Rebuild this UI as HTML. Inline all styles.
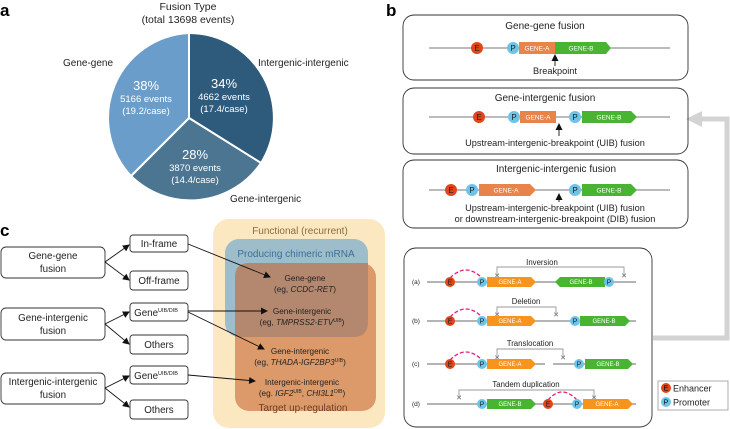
<!DOCTYPE html>
<html><head><meta charset="utf-8"><style>
html,body{margin:0;padding:0;background:#fff}
svg{display:block;font-family:"Liberation Sans",sans-serif}
</style></head><body>
<svg width="730" height="429" viewBox="0 0 730 429" xmlns="http://www.w3.org/2000/svg">
<defs>
<marker id="ar" markerWidth="7" markerHeight="7" refX="6" refY="3.5" orient="auto" markerUnits="userSpaceOnUse"><path d="M0,0 L7,3.5 L0,7 z" fill="#111"/></marker>
</defs>
<!-- panel a -->
<text x="0" y="16" font-size="17" font-weight="bold">a</text>
<text x="188" y="10" font-size="10.5" text-anchor="middle" fill="#222">Fusion Type</text>
<text x="188" y="23" font-size="10.5" text-anchor="middle" fill="#222">(total 13698 events)</text>
<g stroke="#fff" stroke-width="2">
<path d="M189,118 L189,33 A85,85 0 0 1 261,163 Z" fill="#2e5a7b"/>
<path d="M189,118 L261,163 A85,85 0 0 1 131,176 Z" fill="#4b7590"/>
<path d="M189,118 L131,176 A85,85 0 0 1 189,33 Z" fill="#6a9dc9"/>
</g>
<g font-size="10" fill="#222">
<text x="63" y="66">Gene-gene</text>
<text x="258" y="66">Intergenic-intergenic</text>
<text x="230" y="202">Gene-intergenic</text>
</g>
<g fill="#fff" text-anchor="middle">
<text x="146" y="90" font-size="13">38%</text>
<text x="146" y="102" font-size="9.5">5166 events</text>
<text x="146" y="114" font-size="9.5">(19.2/case)</text>
<text x="224" y="88" font-size="13">34%</text>
<text x="224" y="100" font-size="9.5">4662 events</text>
<text x="224" y="112" font-size="9.5">(17.4/case)</text>
<text x="195" y="159" font-size="13">28%</text>
<text x="195" y="171" font-size="9.5">3870 events</text>
<text x="195" y="183" font-size="9.5">(14.4/case)</text>
</g>

<!-- panel b -->
<text x="386" y="16" font-size="17" font-weight="bold">b</text>
<path d="M653,338 L727,338 L727,119 L700,119" fill="none" stroke="#d3d3d3" stroke-width="5"/>
<path d="M686,119 L702,111 L702,127 z" fill="#d3d3d3"/>
<g fill="none" stroke="#333" stroke-width="0.9">
<rect x="403" y="15" width="285" height="65" rx="11"/>
<rect x="403" y="88" width="285" height="66" rx="11"/>
<rect x="403" y="160" width="285" height="68" rx="11"/>
<rect x="404" y="248" width="248" height="179" rx="12"/>
</g>
<g font-size="10" fill="#222" text-anchor="middle">
<text x="545" y="29">Gene-gene fusion</text>
<text x="545" y="101">Gene-intergenic fusion</text>
<text x="556" y="172">Intergenic-intergenic fusion</text>
</g>
<g font-size="9.2" fill="#222" text-anchor="middle">
<text x="555" y="74">Breakpoint</text>
<text x="555" y="146">Upstream-intergenic-breakpoint (UIB) fusion</text>
<text x="555" y="211">Upstream-intergenic-breakpoint (UIB) fusion</text>
<text x="555" y="222">or downstream-intergenic-breakpoint (DIB) fusion</text>
</g>
<g stroke="#777" stroke-width="1"><line x1="429" y1="48" x2="670" y2="48"/><line x1="429" y1="117" x2="670" y2="117"/><line x1="429" y1="190" x2="670" y2="190"/></g>
<g stroke="#111" stroke-width="0.9"><line x1="555" y1="66" x2="555" y2="55" marker-end="url(#ar)"/><line x1="559" y1="136" x2="559" y2="124" marker-end="url(#ar)"/><line x1="559" y1="202" x2="559" y2="194" marker-end="url(#ar)"/></g>
<g font-size="6.5" fill="#fff" text-anchor="middle">
<rect x="519" y="42" width="36" height="12" fill="#e8834a"/><text x="537" y="50.5">GENE-A</text>
<path d="M555,42 L606,42 L611,48 L606,54 L555,54z" fill="#49b431"/><text x="581" y="50.5">GENE-B</text>
<rect x="520" y="111" width="36" height="12" fill="#e8834a"/><text x="538" y="119.5">GENE-A</text>
<path d="M582,111 L631,111 L637,117 L631,123 L582,123z" fill="#49b431"/><text x="609" y="119.5">GENE-B</text>
<path d="M479,184 L530,184 L536,190 L530,196 L479,196z" fill="#e8834a"/><text x="506" y="192.5">GENE-A</text>
<path d="M582,184 L631,184 L637,190 L631,196 L582,196z" fill="#49b431"/><text x="609" y="192.5">GENE-B</text>
</g>
<g font-size="8" text-anchor="middle">
<circle cx="477" cy="48" r="6" fill="#e0461a"/><text x="477" y="51" fill="#222">E</text>
<circle cx="513" cy="48" r="6" fill="#6ec3e8"/><text x="513" y="51" fill="#222">P</text>
<circle cx="479" cy="117" r="6" fill="#e0461a"/><text x="479" y="120" fill="#222">E</text>
<circle cx="514" cy="117" r="6" fill="#6ec3e8"/><text x="514" y="120" fill="#222">P</text>
<circle cx="575" cy="117" r="6" fill="#6ec3e8"/><text x="575" y="120" fill="#222">P</text>
<circle cx="451" cy="190" r="6" fill="#e0461a"/><text x="451" y="193" fill="#222">E</text>
<circle cx="472" cy="190" r="6" fill="#6ec3e8"/><text x="472" y="193" fill="#222">P</text>
<circle cx="575" cy="190" r="6" fill="#6ec3e8"/><text x="575" y="193" fill="#222">P</text>
</g>

<!-- box4 -->
<g font-size="6.5" fill="#222"><text x="412" y="284">(a)</text><text x="412" y="323">(b)</text><text x="412" y="366">(c)</text><text x="412" y="406">(d)</text></g>
<g stroke="#888" stroke-width="1.2">
<line x1="427" y1="282" x2="636" y2="282"/><line x1="427" y1="321" x2="636" y2="321"/>
<line x1="427" y1="364" x2="545" y2="364"/><line x1="553" y1="364" x2="636" y2="364"/>
<line x1="427" y1="404" x2="636" y2="404"/>
</g>
<g fill="none" stroke="#999" stroke-width="0.9">
<path d="M497,274 L497,267 L624,267 L624,274"/>
<path d="M497,313 L497,307 L556,307 L556,313"/>
<path d="M497,356 L497,349 L563,349 L563,356"/>
<path d="M459,396 L459,390 L594,390 L594,396"/>
</g>
<g font-size="7" fill="#555" text-anchor="middle"><text x="497" y="278">✕</text><text x="624" y="278">✕</text><text x="497" y="317">✕</text><text x="556" y="317">✕</text><text x="497" y="360">✕</text><text x="563" y="360">✕</text><text x="459" y="400">✕</text><text x="594" y="400">✕</text></g>
<g font-size="7.8" fill="#222" text-anchor="middle"><text x="542" y="265">Inversion</text><text x="526" y="304">Deletion</text><text x="530" y="346">Translocation</text><text x="526" y="387">Tandem duplication</text></g>
<g fill="none" stroke="#e6207e" stroke-width="1.3" stroke-dasharray="4,2">
<path d="M450,278 Q466,262 482,278"/><path d="M450,317 Q466,301 482,317"/><path d="M450,360 Q466,344 482,360"/><path d="M548,400 Q562,384 577,400"/>
</g>
<g font-size="6" fill="#fff" text-anchor="middle">
<path d="M487,277 L531,277 L536,282 L531,287 L487,287z" fill="#f7941d"/><text x="510" y="284">GENE-A</text>
<path d="M560,277 L605,277 L605,287 L560,287 L555,282z" fill="#49b431"/><text x="581" y="284">GENE-B</text>
<path d="M487,316 L531,316 L536,321 L531,326 L487,326z" fill="#f7941d"/><text x="510" y="323">GENE-A</text>
<path d="M580,316 L625,316 L630,321 L625,326 L580,326z" fill="#49b431"/><text x="604" y="323">GENE-B</text>
<path d="M487,359 L531,359 L536,364 L531,369 L487,369z" fill="#f7941d"/><text x="510" y="366">GENE-A</text>
<path d="M585,359 L628,359 L633,364 L628,369 L585,369z" fill="#49b431"/><text x="608" y="366">GENE-B</text>
<path d="M487,399 L531,399 L536,404 L531,409 L487,409z" fill="#49b431"/><text x="510" y="406">GENE-B</text>
<path d="M583,399 L628,399 L633,404 L628,409 L583,409z" fill="#f7941d"/><text x="607" y="406">GENE-A</text>
</g>
<g font-size="7" text-anchor="middle" fill="#222">
<circle cx="450" cy="282" r="5" fill="#e0461a"/><text x="450" y="284.5">E</text><circle cx="482" cy="282" r="5" fill="#6ec3e8"/><text x="482" y="284.5">P</text><circle cx="609" cy="282" r="5" fill="#6ec3e8"/><text x="609" y="284.5">P</text>
<circle cx="450" cy="321" r="5" fill="#e0461a"/><text x="450" y="323.5">E</text><circle cx="482" cy="321" r="5" fill="#6ec3e8"/><text x="482" y="323.5">P</text><circle cx="575" cy="321" r="5" fill="#6ec3e8"/><text x="575" y="323.5">P</text>
<circle cx="450" cy="364" r="5" fill="#e0461a"/><text x="450" y="366.5">E</text><circle cx="482" cy="364" r="5" fill="#6ec3e8"/><text x="482" y="366.5">P</text><circle cx="579" cy="364" r="5" fill="#6ec3e8"/><text x="579" y="366.5">P</text>
<circle cx="482" cy="404" r="5" fill="#6ec3e8"/><text x="482" y="406.5">P</text><circle cx="548" cy="404" r="5" fill="#e0461a"/><text x="548" y="406.5">E</text><circle cx="577" cy="404" r="5" fill="#6ec3e8"/><text x="577" y="406.5">P</text>
</g>
<rect x="658" y="381" width="70" height="29" fill="#fff" stroke="#999" stroke-width="0.8"/>
<circle cx="666" cy="388" r="5" fill="#e0461a"/><text x="666" y="390.5" font-size="7" text-anchor="middle">E</text>
<circle cx="666" cy="402" r="5" fill="#6ec3e8"/><text x="666" y="404.5" font-size="7" text-anchor="middle">P</text>
<text x="673" y="391.5" font-size="9" fill="#222">Enhancer</text>
<text x="673" y="405.5" font-size="9" fill="#222">Promoter</text>

<!-- panel c -->
<text x="0" y="236" font-size="17" font-weight="bold">c</text>
<rect x="213" y="219" width="172" height="209" rx="16" fill="#fce8c0"/>
<rect x="225" y="239" width="143" height="98" rx="14" fill="#9ebdcb"/>
<rect x="235" y="263" width="141" height="148" rx="14" fill="#dc9a6a"/>
<path d="M249,263 L368,263 L368,322 Q368,337 353,337 L235,337 L235,277 Q235,263 249,263z" fill="#b4886f"/>
<text x="300" y="234" font-size="10" text-anchor="middle" fill="#8b6a3a">Functional (recurrent)</text>
<text x="296" y="257" font-size="10" text-anchor="middle" fill="#3d6f98">Producing chimeric mRNA</text>
<g font-size="8.2" fill="#222" text-anchor="middle">
<text x="305" y="281">Gene-gene</text>
<text x="305" y="292">(eg, <tspan font-style="italic">CCDC-RET</tspan>)</text>
<text x="302" y="314">Gene-intergenic</text>
<text x="302" y="325">(eg, <tspan font-style="italic">TMPRSS2-ETV</tspan><tspan font-size="5" dy="-3">UIB</tspan><tspan dy="3">)</tspan></text>
<text x="300" y="354">Gene-intergenic</text>
<text x="300" y="365">(eg, <tspan font-style="italic">THADA-IGF2BP3</tspan><tspan font-size="5" dy="-3">UIB</tspan><tspan dy="3">)</tspan></text>
<text x="302" y="385">Intergenic-intergenic</text>
<text x="302" y="396">(eg. <tspan font-style="italic">IGF2</tspan><tspan font-size="5" dy="-3">UIB</tspan><tspan dy="3">, </tspan><tspan font-style="italic">CHI3L1</tspan><tspan font-size="5" dy="-3">DIB</tspan><tspan dy="3">)</tspan></text>
</g>
<text x="303" y="411" font-size="10" text-anchor="middle" fill="#6e3e22">Target up-regulation</text>
<g fill="#fff" stroke="#333" stroke-width="0.9">
<rect x="1" y="247" width="104" height="31" rx="5"/>
<rect x="1" y="308" width="104" height="32" rx="5"/>
<rect x="1" y="373" width="104" height="31" rx="5"/>
<rect x="130" y="235" width="58" height="17" rx="3"/>
<rect x="130" y="271" width="58" height="19" rx="3"/>
<rect x="130" y="303" width="58" height="18" rx="3"/>
<rect x="130" y="335" width="58" height="19" rx="3"/>
<rect x="130" y="366" width="58" height="18" rx="3"/>
<rect x="130" y="400" width="58" height="19" rx="3"/>
</g>
<g font-size="9.8" fill="#222" text-anchor="middle">
<text x="53" y="259">Gene-gene</text><text x="53" y="272">fusion</text>
<text x="53" y="321">Gene-intergenic</text><text x="53" y="334">fusion</text>
<text x="53" y="385">Intergenic-intergenic</text><text x="53" y="398">fusion</text>
<text x="159" y="247">In-frame</text>
<text x="159" y="284">Off-frame</text>
<text x="156" y="316">Gene<tspan font-size="5.5" dy="-4">UIB/DIB</tspan></text>
<text x="159" y="348">Others</text>
<text x="156" y="379">Gene<tspan font-size="5.5" dy="-4">UIB/DIB</tspan></text>
<text x="159" y="413">Others</text>
</g>
<g stroke="#111" stroke-width="0.9" marker-end="url(#ar)">
<line x1="105" y1="262" x2="129" y2="245"/><line x1="105" y1="262" x2="129" y2="280"/>
<line x1="105" y1="324" x2="129" y2="312"/><line x1="105" y1="324" x2="129" y2="344"/>
<line x1="105" y1="388" x2="129" y2="376"/><line x1="105" y1="388" x2="129" y2="407"/>
<line x1="188" y1="244" x2="270" y2="277"/>
<line x1="188" y1="311" x2="267" y2="311"/>
<line x1="188" y1="312" x2="264" y2="349"/>
<line x1="188" y1="375" x2="255" y2="381"/>
</g>
</svg>
</body></html>
